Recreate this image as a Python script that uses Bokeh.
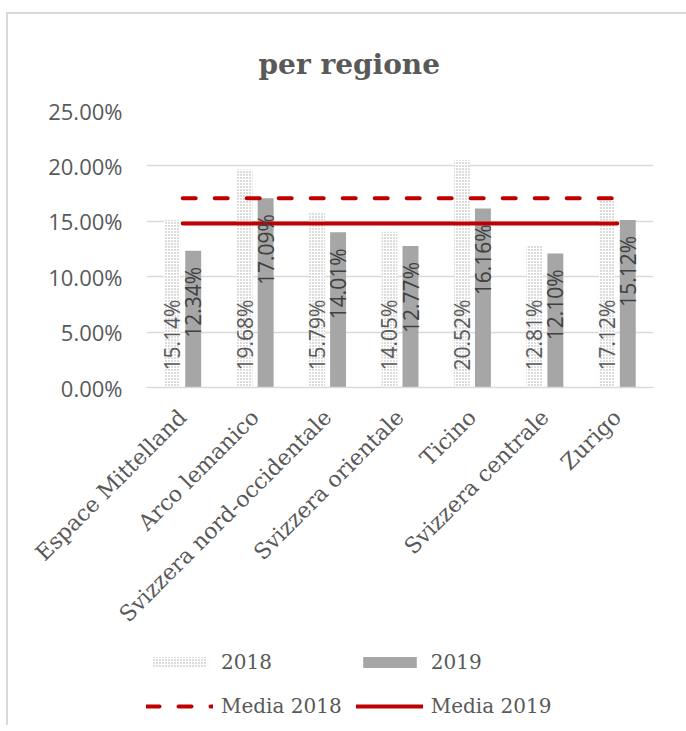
import math
from bokeh.plotting import figure
from bokeh.layouts import column
from bokeh.models import (ColumnDataSource, FactorRange, Legend, LegendItem, PrintfTickFormatter,
                          FixedTicker, Range1d)
from bokeh.transform import dodge
from bokeh.core.properties import value
from bokeh.embed import file_html
from bokeh.resources import INLINE

regions = ["Espace Mittelland", "Arco lemanico", "Svizzera nord-occidentale",
           "Svizzera orientale", "Ticino", "Svizzera centrale", "Zurigo"]
v2018 = [15.14, 19.68, 15.79, 14.05, 20.52, 12.81, 17.12]
v2019 = [12.34, 17.09, 14.01, 12.77, 16.16, 12.10, 15.12]
mean_2018 = 17.07
mean_2019 = 14.80
y_ticks = [0, 5, 10, 15, 20, 25]
series_names = ["2018", "2019", "Media 2018", "Media 2019"]

src = ColumnDataSource(dict(
    region=regions,
    v2018=v2018,
    v2019=v2019,
    l2018=["%.2f%%" % v for v in v2018],
    l2019=["%.2f%%" % v for v in v2019],
    zero=[0] * len(regions),
    m2018=[mean_2018] * len(regions),
    m2019=[mean_2019] * len(regions),
))

GRAY = "#595959"
RED = "#C00000"
BAR = "#A6A6A6"
SANS = "Open Sans"
SERIF = "DejaVu Serif"

hatch18 = dict(fill_color="white", line_color=None, hatch_pattern="dot",
               hatch_color=BAR, hatch_scale=3, hatch_weight=1.2)
bar19 = dict(fill_color=BAR, line_color=None)
dash18 = dict(line_color=RED, line_width=4, line_dash="13 19", line_cap="round")
solid19 = dict(line_color=RED, line_width=4, line_cap="round")

p = figure(x_range=FactorRange(*regions), y_range=(0, 25),
           frame_width=507, frame_height=277,
           output_backend="svg", toolbar_location=None,
           min_border_left=138, min_border_right=33, min_border_top=96, min_border_bottom=258)

p.title.text = "per regione"
p.title.text_font = SERIF
p.title.text_font_style = "bold"
p.title.text_font_size = "28px"
p.title.text_color = GRAY
p.title.align = "left"
p.title.offset = 112
p.title.standoff = 60

bw = 0.22
p.vbar(x=dodge("region", -0.145, range=p.x_range), top="v2018", width=bw, source=src, **hatch18)
p.vbar(x=dodge("region", 0.145, range=p.x_range), top="v2019", width=bw, source=src, **bar19)
p.line(x="region", y="m2018", source=src, **dash18)
p.line(x="region", y="m2019", source=src, **solid19)

p.text(x=dodge("region", -0.145, range=p.x_range), y="zero", text="l2018", source=src,
       angle=math.pi / 2, text_align="left", text_baseline="middle", y_offset=-17,
       text_font=value(SANS), text_font_size="21px", text_color=GRAY)
p.text(x=dodge("region", 0.145, range=p.x_range), y="v2019", text="l2019", source=src,
       angle=math.pi / 2, text_align="right", text_baseline="middle", y_offset=16,
       text_font=value(SANS), text_font_size="21px", text_color="#404040")

p.xgrid.grid_line_color = None
p.ygrid.grid_line_color = "#D9D9D9"
p.ygrid.grid_line_width = 1.5
p.outline_line_color = None

p.yaxis.ticker = FixedTicker(ticks=y_ticks)
p.yaxis.formatter = PrintfTickFormatter(format="%.2f%%")
p.yaxis.axis_line_color = None
p.yaxis.major_tick_line_color = None
p.yaxis.minor_tick_line_color = None
p.yaxis.major_label_text_font = SANS
p.yaxis.major_label_text_font_size = "22px"
p.yaxis.major_label_text_color = GRAY
p.yaxis.major_label_standoff = 18

p.xaxis.axis_line_color = "#D9D9D9"
p.xaxis.axis_line_width = 1.5
p.xaxis.major_tick_line_color = None
p.xaxis.minor_tick_line_color = None
p.xaxis.major_label_orientation = math.pi / 4
p.xaxis.major_label_text_font = SERIF
p.xaxis.major_label_text_font_size = "22px"
p.xaxis.major_label_text_color = GRAY
p.xaxis.major_label_standoff = 20

# legend strip below the chart; its key renderers hold one point outside the visible range
lg = figure(x_range=Range1d(0, 1), y_range=Range1d(0, 1),
            frame_width=507, frame_height=80,
            output_backend="svg", toolbar_location=None,
            min_border_left=138, min_border_right=33, min_border_top=0, min_border_bottom=0)
lg.axis.visible = False
lg.grid.visible = False
lg.outline_line_color = None
k18 = lg.vbar(x=[-10], top=[-10], width=0.1, **hatch18)
k19 = lg.vbar(x=[-10], top=[-10], width=0.1, **bar19)
km18 = lg.line(x=[-10, -9], y=[-10, -10], **dash18)
km19 = lg.line(x=[-10, -9], y=[-10, -10], **solid19)

legend = Legend(items=[
    LegendItem(label=series_names[0], renderers=[k18], index=0),
    LegendItem(label=series_names[1], renderers=[k19], index=0),
    LegendItem(label=series_names[2], renderers=[km18]),
    LegendItem(label=series_names[3], renderers=[km19]),
], orientation="horizontal", ncols=2, location=(0, 4),
    glyph_width=67, glyph_height=14, label_height=30, label_standoff=8, spacing=14,
    label_text_font=SERIF, label_text_font_size="20px", label_text_color=GRAY,
    padding=0, margin=0, border_line_color=None, background_fill_alpha=0)
lg.add_layout(legend, "center")

layout = column(p, lg, spacing=0)
layout.styles = {"border-left": "2px solid #D9D9D9", "border-top": "2px solid #D9D9D9",
                 "margin-top": "12px", "margin-left": "6px"}

open("out.html", "w").write(file_html(layout, INLINE))
